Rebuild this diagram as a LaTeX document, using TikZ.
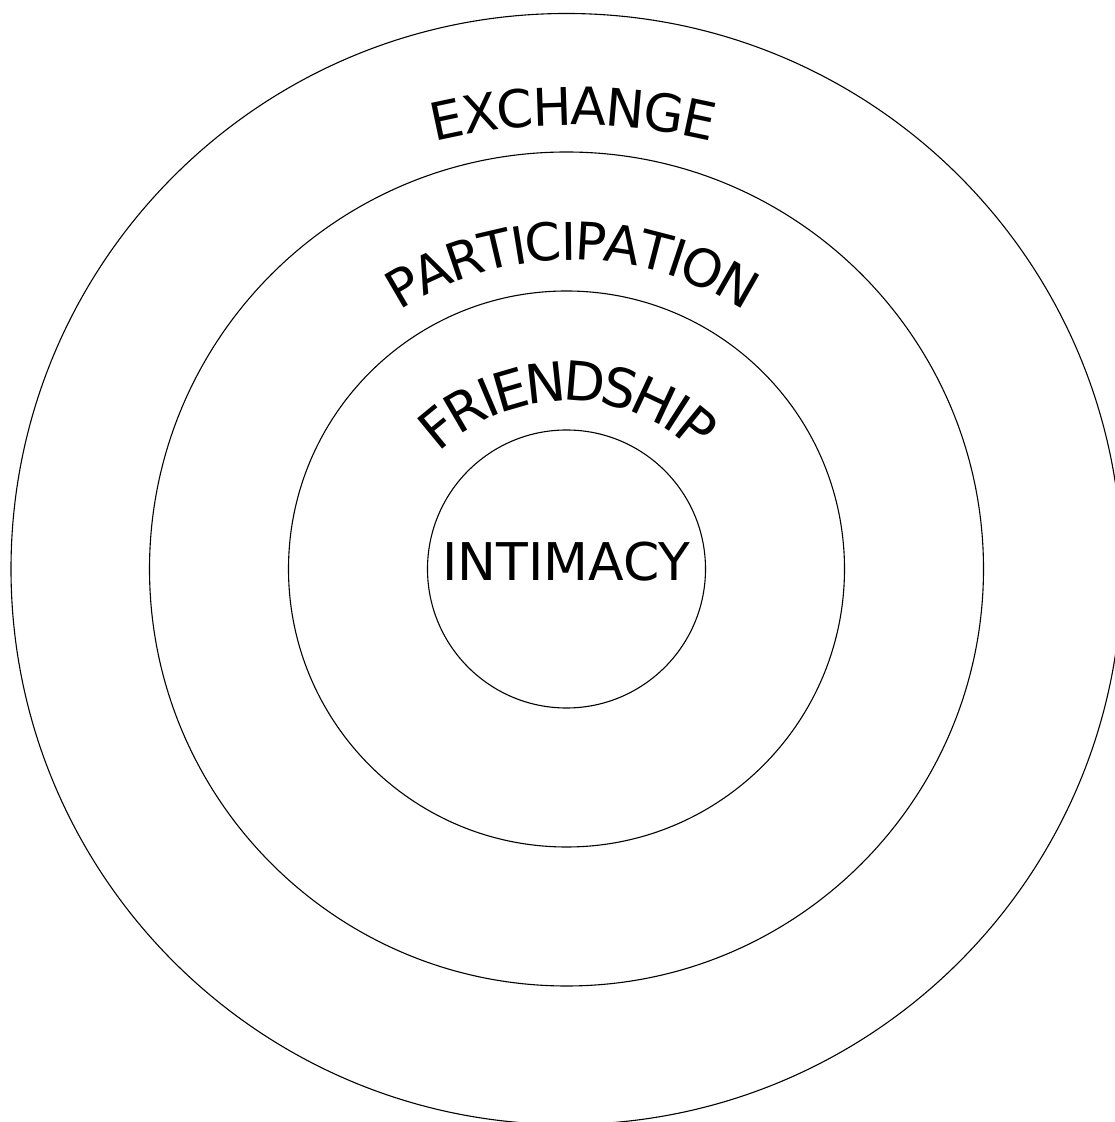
\documentclass[tikz,border=0pt]{standalone}
\usepackage{fontspec}
\setmainfont{DejaVu Sans}
\usetikzlibrary{decorations.text}
\newcommand{\wordfont}{\fontsize{52}{60}\selectfont}
\newcommand{\wordfontb}{\fontsize{54}{62}\selectfont}
\tikzset{
  ring/.style={draw=black, line width=1.1pt},
  curvedword/.style={decorate, decoration={text along path, text align=center, raise=-29pt, text={#1}}}
}
\begin{document}
\begin{tikzpicture}[x=1pt,y=1pt]
\useasboundingbox (0,0) rectangle (1115,1122);
\clip (0,0) rectangle (1115,1122);
\fill[white] (0,0) rectangle (1115,1122);
\coordinate (c) at (566.5,553);
\draw[ring] (c) circle[radius=139];
\draw[ring] (c) circle[radius=278];
\draw[ring] (c) circle[radius=417];
\draw[ring] (c) circle[radius=555.5];
% curved labels
\coordinate (ex) at (573,407);
\coordinate (pa) at (572,547);
\coordinate (fr) at (567.5,537);
\path[curvedword={|\wordfont|EXCHANGE}] (ex) ++(130:619) arc[start angle=130, end angle=50, radius=619];
\path[curvedword={|\wordfont|PARTICIPATION}] (pa) ++(150:344) arc[start angle=150, end angle=30, radius=344];
\path[curvedword={|\wordfontb|FRIENDSHIP}] (fr) ++(180:213) arc[start angle=180, end angle=0, radius=213];
\node[font=\wordfont, anchor=base, inner sep=0pt] (intimacy) at (566.5,541) {INTIMACY};
\end{tikzpicture}
\end{document}
